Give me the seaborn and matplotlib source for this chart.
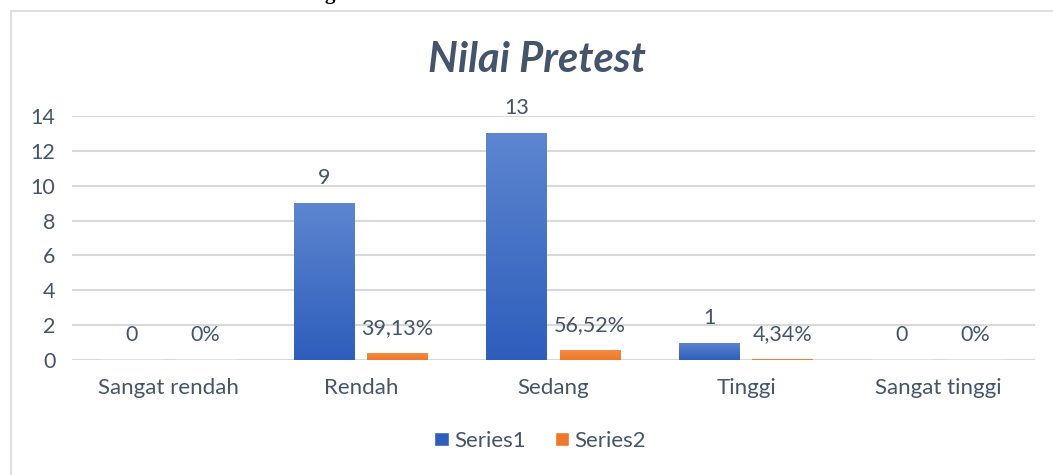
import numpy as np
import pandas as pd
import matplotlib.pyplot as plt
import seaborn as sns
from matplotlib.colors import LinearSegmentedColormap
from matplotlib.patches import Rectangle

# data
categories = ['Sangat rendah', 'Rendah', 'Sedang', 'Tinggi', 'Sangat tinggi']
series1 = [0, 9, 13, 1, 0]
series2 = [0.0, 0.3913, 0.5652, 0.0434, 0.0]
series1_labels = ['0', '9', '13', '1', '0']
series2_labels = ['0%', '39,13%', '56,52%', '4,34%', '0%']
series_names = ['Series1', 'Series2']
y_ticks = [0, 2, 4, 6, 8, 10, 12, 14]

df = pd.DataFrame({
    'kategori': categories * 2,
    'nilai': series1 + series2,
    'seri': [series_names[0]] * len(categories) + [series_names[1]] * len(categories),
})

text_color = '#44546A'
grid_color = '#D9D9D9'
blue = ('#5D86D0', '#2E5EBC')
orange = ('#F48A43', '#ED782A')

sns.set_theme(style='white')
plt.rcParams['font.family'] = ['Lato', 'DejaVu Sans']

fig = plt.figure(figsize=(10.53, 4.75), dpi=100)
ax = fig.add_axes([0.0684, 0.2421, 0.9145, 0.5137])

sns.barplot(data=df, x='kategori', y='nilai', hue='seri',
            palette=[blue[1], orange[1]], width=0.763, gap=0.17,
            ax=ax, legend=False, saturation=1)

# gradient fill, light at top, darker at bottom (like the Excel style)
n = len(categories)
for i, patch in enumerate(ax.patches[:2 * n]):
    cols = blue if i < n else orange
    cmap = LinearSegmentedColormap.from_list('g', [cols[1], cols[0]])
    x0, y0 = patch.get_x(), patch.get_y()
    w, h = patch.get_width(), patch.get_height()
    if h <= 0:
        continue
    grad = np.linspace(0, 1, 100).reshape(-1, 1)
    im = ax.imshow(grad, cmap=cmap, origin='lower', aspect='auto',
                   extent=[x0, x0 + w, y0, y0 + h], zorder=patch.get_zorder())
    im.set_clip_path(patch)
    patch.set_facecolor('none')
    patch.set_edgecolor('none')

# data labels above bars
for i, patch in enumerate(ax.patches[:2 * n]):
    lab = series1_labels[i] if i < n else series2_labels[i - n]
    xc = patch.get_x() + patch.get_width() / 2
    ax.annotate(lab, (xc, patch.get_height()), xytext=(0, 18),
                textcoords='offset points', ha='center', va='center',
                fontsize=15.5, color=text_color)

ax.set_xlim(-0.5, n - 0.5)
ax.set_ylim(0, 14)
ax.set_yticks(y_ticks)
ax.set_xlabel('')
ax.set_ylabel('')
ax.yaxis.grid(True, color=grid_color, linewidth=1.5)
ax.set_axisbelow(True)
for s in ax.spines.values():
    s.set_visible(False)
ax.tick_params(axis='y', length=0, pad=12, labelsize=15.5, labelcolor=text_color)
ax.tick_params(axis='x', length=0, pad=13, labelsize=16, labelcolor=text_color)

fig.text(0.51, 0.874, 'Nilai Pretest', ha='center', va='center',
         fontsize=30, fontweight='bold', style='italic', color=text_color)

handles = [Rectangle((0, 0), 1, 1, facecolor=blue[1]),
           Rectangle((0, 0), 1, 1, facecolor=orange[1])]
fig.legend(handles, series_names, loc='center', bbox_to_anchor=(0.513, 0.072),
           ncol=2, frameon=False, fontsize=16, labelcolor=text_color,
           handlelength=0.65, handleheight=0.65, handletextpad=0.25, columnspacing=1.3)

# chart frame
fig.add_artist(Rectangle((0.0105, -0.05), 1.1, 1.05 - 11 / 475, transform=fig.transFigure,
                         fill=False, edgecolor=grid_color, linewidth=1.2))

# descender of the document text cut off above the chart
fig.text(0.313, 1.003, 'g', ha='center', va='baseline', fontsize=15,
         fontweight='bold', family='Liberation Serif', color='black')

fig.savefig('out.png', dpi=100)
